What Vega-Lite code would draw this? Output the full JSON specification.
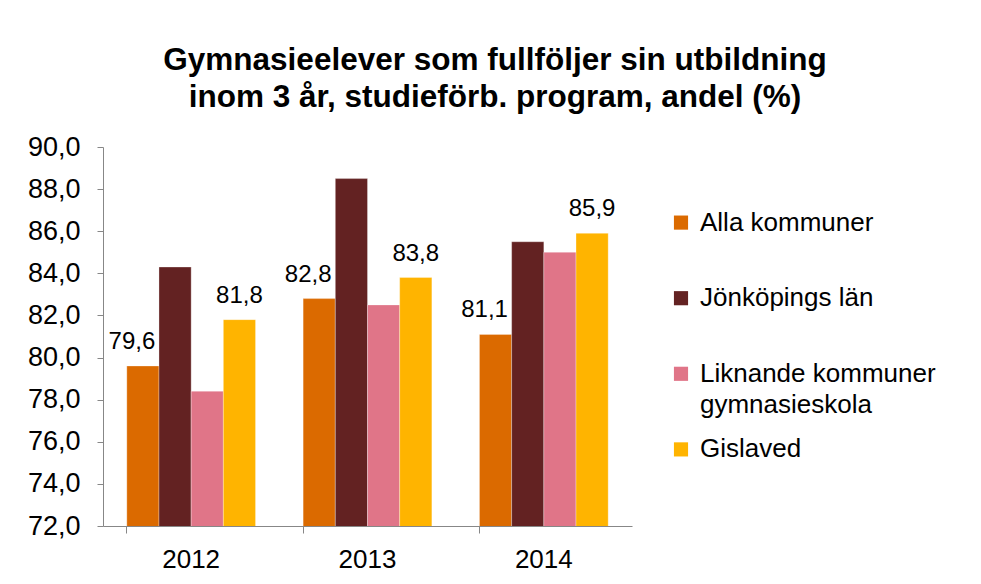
{
  "$schema": "https://vega.github.io/schema/vega-lite/v6.json",
  "autosize": {"type": "pad"},
  "bounds": "flush",
  "padding": {"left": 27, "top": 44, "right": 0, "bottom": 0},
  "background": "white",
  "spacing": 49,
  "config": {
    "locale": {"number": {"decimal": ",", "thousands": " ", "grouping": [3], "currency": ["", " kr"]}},
    "font": "Liberation Sans",
    "view": {"stroke": null},
    "axis": {"domainColor": "#878787", "tickColor": "#878787", "labelColor": "black", "labelFont": "Liberation Sans", "grid": false}
  },
  "title": {
    "text": ["Gymnasieelever som fullföljer sin utbildning", "inom 3 år, studieförb. program, andel (%)"],
    "fontSize": 31.5,
    "fontWeight": "bold",
    "font": "Liberation Sans",
    "color": "black",
    "anchor": "middle",
    "frame": "group",
    "dx": 392,
    "offset": 20,
    "lineHeight": 37
  },
  "datasets": {
    "main": [
      {"year": "2012", "serie": "Alla kommuner", "value": 79.6},
      {"year": "2012", "serie": "Jönköpings län", "value": 84.3},
      {"year": "2012", "serie": "Liknande kommuner gymnasieskola", "value": 78.4},
      {"year": "2012", "serie": "Gislaved", "value": 81.8},
      {"year": "2013", "serie": "Alla kommuner", "value": 82.8},
      {"year": "2013", "serie": "Jönköpings län", "value": 88.5},
      {"year": "2013", "serie": "Liknande kommuner gymnasieskola", "value": 82.5},
      {"year": "2013", "serie": "Gislaved", "value": 83.8},
      {"year": "2014", "serie": "Alla kommuner", "value": 81.1},
      {"year": "2014", "serie": "Jönköpings län", "value": 85.5},
      {"year": "2014", "serie": "Liknande kommuner gymnasieskola", "value": 85.0},
      {"year": "2014", "serie": "Gislaved", "value": 85.9}
    ],
    "series": [
      {"serie": "Alla kommuner"},
      {"serie": "Jönköpings län"},
      {"serie": "Liknande kommuner gymnasieskola"},
      {"serie": "Gislaved"}
    ]
  },
  "hconcat": [
    {
      "width": 529,
      "height": 379,
      "data": {"name": "main"},
      "encoding": {
        "x": {
          "field": "year", "type": "nominal",
          "scale": {"paddingInner": 0.27, "paddingOuter": 0.135},
          "axis": {"title": null, "labelAngle": 0, "bandPosition": 0, "labelFontSize": 26, "labelPadding": 13, "tickSize": 7}
        },
        "xOffset": {
          "field": "serie", "type": "nominal",
          "sort": ["Alla kommuner", "Jönköpings län", "Liknande kommuner gymnasieskola", "Gislaved"],
          "scale": {"paddingInner": 0, "paddingOuter": 0}
        },
        "y": {
          "field": "value", "type": "quantitative",
          "scale": {"domain": [72, 90], "zero": false, "nice": false},
          "axis": {"title": null, "values": [72, 74, 76, 78, 80, 82, 84, 86, 88, 90], "format": ".1f", "labelFontSize": 27, "labelPadding": 17, "tickSize": 6}
        }
      },
      "layer": [
        {
          "mark": {"type": "bar", "clip": true, "stroke": "white", "strokeWidth": 0.5, "strokeOpacity": 0.6},
          "encoding": {
            "color": {
              "field": "serie", "type": "nominal",
              "scale": {
                "domain": ["Alla kommuner", "Jönköpings län", "Liknande kommuner gymnasieskola", "Gislaved"],
                "range": ["#DB6A00", "#632222", "#E07588", "#FFB400"]
              },
              "legend": null
            }
          }
        },
        {
          "transform": [{"filter": "datum.serie == 'Alla kommuner'"}],
          "mark": {"type": "text", "baseline": "bottom", "dy": -12, "dx": -11, "fontSize": 24, "color": "black", "font": "Liberation Sans"},
          "encoding": {"text": {"field": "value", "type": "quantitative", "format": ".1f"}}
        },
        {
          "transform": [{"filter": "datum.serie == 'Gislaved'"}],
          "mark": {"type": "text", "baseline": "bottom", "dy": -12, "fontSize": 24, "color": "black", "font": "Liberation Sans"},
          "encoding": {"text": {"field": "value", "type": "quantitative", "format": ".1f"}}
        }
      ]
    },
    {
      "width": 290,
      "height": 378,
      "data": {"name": "series"},
      "encoding": {
        "x": {"datum": 0, "type": "quantitative", "scale": {"domain": [0, 1]}, "axis": null},
        "y": {
          "field": "serie", "type": "nominal",
          "sort": ["Alla kommuner", "Jönköpings län", "Liknande kommuner gymnasieskola", "Gislaved"],
          "scale": {"type": "point", "padding": 1.1},
          "axis": null
        }
      },
      "layer": [
        {
          "mark": {"type": "point", "shape": "square", "filled": true, "size": 200, "opacity": 1},
          "encoding": {"color": {"field": "serie", "type": "nominal", "legend": null}}
        },
        {
          "mark": {
            "type": "text", "align": "left", "baseline": "middle", "dx": 19, "fontSize": 26, "color": "black", "font": "Liberation Sans", "lineHeight": 31,
            "text": {"expr": "datum.serie == 'Liknande kommuner gymnasieskola' ? ['Liknande kommuner', 'gymnasieskola'] : datum.serie"}
          },
          "encoding": {}
        }
      ]
    }
  ]
}
